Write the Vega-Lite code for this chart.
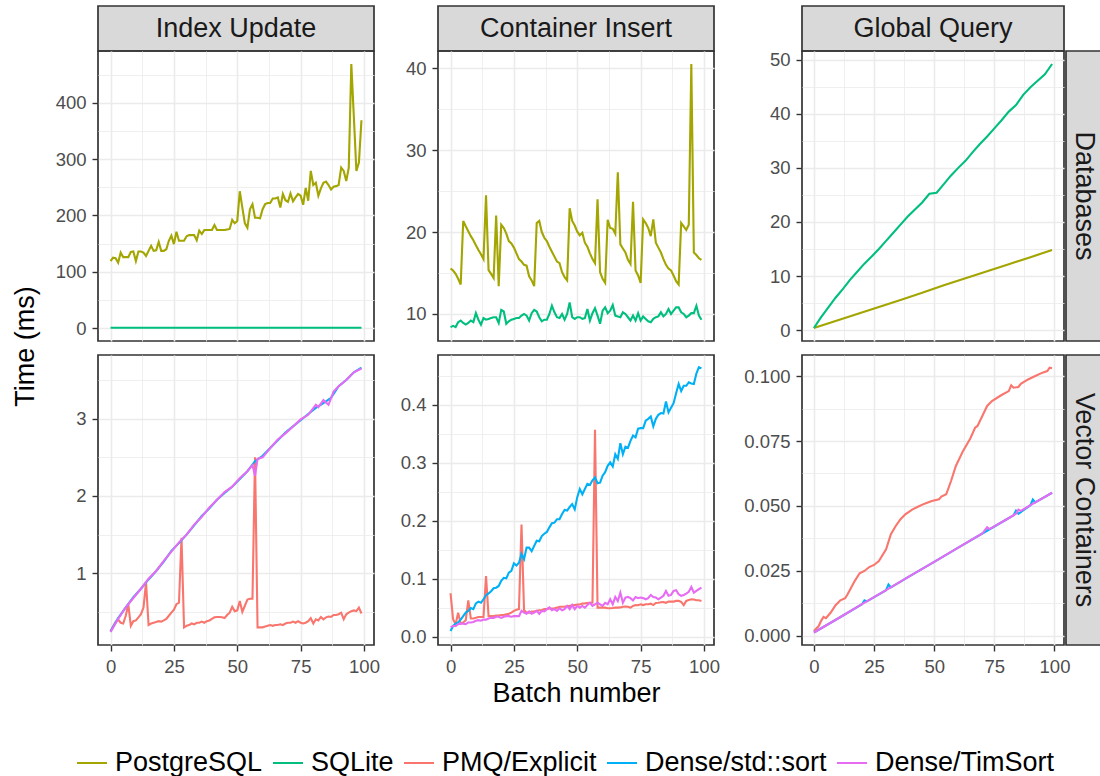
{
"$schema": "https://vega.github.io/schema/vega-lite/v6.json",
"padding": {"left": 12, "top": 5, "right": 0, "bottom": 0},
"title": {"text": "Time (ms)", "orient": "left", "anchor": "middle", "offset": 14, "dx": 44, "fontSize": 27, "fontWeight": "normal", "font": "Liberation Sans", "color": "#000000"},
"columns": 6,
"spacing": {"row": 0, "column": 2},
"bounds": "flush",
"align": "each",
"datasets": {
"iud": [
{"x":0,"PostgreSQL":119,"SQLite":0.5},{"x":1,"PostgreSQL":125},{"x":2,"PostgreSQL":124},{"x":3,"PostgreSQL":116},{"x":4,"PostgreSQL":134},{"x":5,"PostgreSQL":126},{"x":6,"PostgreSQL":126},{"x":7,"PostgreSQL":126},{"x":8,"PostgreSQL":135},{"x":9,"PostgreSQL":136},
{"x":10,"PostgreSQL":119},{"x":11,"PostgreSQL":136},{"x":12,"PostgreSQL":136},{"x":13,"PostgreSQL":134},{"x":14,"PostgreSQL":128},{"x":15,"PostgreSQL":137},{"x":16,"PostgreSQL":146},{"x":17,"PostgreSQL":137},{"x":18,"PostgreSQL":138},{"x":19,"PostgreSQL":153},
{"x":20,"PostgreSQL":137},{"x":21,"PostgreSQL":137},{"x":22,"PostgreSQL":140},{"x":23,"PostgreSQL":155},{"x":24,"PostgreSQL":164},{"x":25,"PostgreSQL":149},{"x":26,"PostgreSQL":171},{"x":27,"PostgreSQL":155},{"x":28,"PostgreSQL":155},{"x":29,"PostgreSQL":155},
{"x":30,"PostgreSQL":163},{"x":31,"PostgreSQL":165},{"x":32,"PostgreSQL":165},{"x":33,"PostgreSQL":165,"SQLite":0.4},{"x":34,"PostgreSQL":156},{"x":35,"PostgreSQL":173},{"x":36,"PostgreSQL":167},{"x":37,"PostgreSQL":174},{"x":38,"PostgreSQL":174},{"x":39,"PostgreSQL":174},
{"x":40,"PostgreSQL":174},{"x":41,"PostgreSQL":183},{"x":42,"PostgreSQL":174},{"x":43,"PostgreSQL":174},{"x":44,"PostgreSQL":174},{"x":45,"PostgreSQL":174},{"x":46,"PostgreSQL":175},{"x":47,"PostgreSQL":176},{"x":48,"PostgreSQL":192},{"x":49,"PostgreSQL":186},
{"x":50,"PostgreSQL":190},{"x":51,"PostgreSQL":243},{"x":52,"PostgreSQL":214},{"x":53,"PostgreSQL":186},{"x":54,"PostgreSQL":178},{"x":55,"PostgreSQL":211},{"x":56,"PostgreSQL":220},{"x":57,"PostgreSQL":196},{"x":58,"PostgreSQL":196},{"x":59,"PostgreSQL":195},
{"x":60,"PostgreSQL":211},{"x":61,"PostgreSQL":220},{"x":62,"PostgreSQL":222},{"x":63,"PostgreSQL":222},{"x":64,"PostgreSQL":230},{"x":65,"PostgreSQL":230},{"x":66,"PostgreSQL":232,"SQLite":0.4},{"x":67,"PostgreSQL":214},{"x":68,"PostgreSQL":238},{"x":69,"PostgreSQL":227},
{"x":70,"PostgreSQL":224},{"x":71,"PostgreSQL":239},{"x":72,"PostgreSQL":225},{"x":73,"PostgreSQL":232},{"x":74,"PostgreSQL":238},{"x":75,"PostgreSQL":235},{"x":76,"PostgreSQL":219},{"x":77,"PostgreSQL":249},{"x":78,"PostgreSQL":226},{"x":79,"PostgreSQL":279},
{"x":80,"PostgreSQL":254},{"x":81,"PostgreSQL":258},{"x":82,"PostgreSQL":235},{"x":83,"PostgreSQL":248},{"x":84,"PostgreSQL":258},{"x":85,"PostgreSQL":260},{"x":86,"PostgreSQL":254},{"x":87,"PostgreSQL":246},{"x":88,"PostgreSQL":251},{"x":89,"PostgreSQL":252},
{"x":90,"PostgreSQL":254},{"x":91,"PostgreSQL":285},{"x":92,"PostgreSQL":279},{"x":93,"PostgreSQL":261},{"x":94,"PostgreSQL":285},{"x":95,"PostgreSQL":469},{"x":96,"PostgreSQL":375},{"x":97,"PostgreSQL":279},{"x":98,"PostgreSQL":294},{"x":99,"PostgreSQL":369,"SQLite":0.5}
],
"cid": [
{"x":0,"PostgreSQL":15.55,"SQLite":8.4},{"x":1,"PostgreSQL":15.3,"SQLite":8.55},{"x":2,"PostgreSQL":14.9,"SQLite":8.4},{"x":3,"PostgreSQL":14.3,"SQLite":9.0},{"x":4,"PostgreSQL":13.6,"SQLite":9.2},{"x":5,"PostgreSQL":21.35,"SQLite":8.9},{"x":6,"PostgreSQL":20.7,"SQLite":8.7},{"x":7,"PostgreSQL":20.1,"SQLite":8.9},{"x":8,"PostgreSQL":19.5,"SQLite":9.2},{"x":9,"PostgreSQL":19.0,"SQLite":9.0},
{"x":10,"PostgreSQL":18.4,"SQLite":10.1},{"x":11,"PostgreSQL":17.8,"SQLite":9.3},{"x":12,"PostgreSQL":17.3,"SQLite":8.7},{"x":13,"PostgreSQL":16.7,"SQLite":9.5},{"x":14,"PostgreSQL":24.5,"SQLite":9.3},{"x":15,"PostgreSQL":15.35,"SQLite":9.4},{"x":16,"PostgreSQL":14.9,"SQLite":9.5},{"x":17,"PostgreSQL":14.4,"SQLite":9.6},{"x":18,"PostgreSQL":22.0,"SQLite":9.6},{"x":19,"PostgreSQL":13.4,"SQLite":8.9},
{"x":20,"PostgreSQL":20.9,"SQLite":10.5},{"x":21,"PostgreSQL":20.5,"SQLite":10.3},{"x":22,"PostgreSQL":19.8,"SQLite":8.8},{"x":23,"PostgreSQL":18.9,"SQLite":9.1},{"x":24,"PostgreSQL":18.6,"SQLite":9.3},{"x":25,"PostgreSQL":18.1,"SQLite":9.4},{"x":26,"PostgreSQL":17.4,"SQLite":9.5},{"x":27,"PostgreSQL":16.7,"SQLite":9.5},{"x":28,"PostgreSQL":16.4,"SQLite":9.8},{"x":29,"PostgreSQL":16.0,"SQLite":10.0},
{"x":30,"PostgreSQL":15.9,"SQLite":9.8},{"x":31,"PostgreSQL":14.6,"SQLite":9.2},{"x":32,"PostgreSQL":14.1,"SQLite":10.1},{"x":33,"PostgreSQL":13.4,"SQLite":10.5},{"x":34,"PostgreSQL":21.1,"SQLite":10.3},{"x":35,"PostgreSQL":21.35,"SQLite":9.6},{"x":36,"PostgreSQL":20.0,"SQLite":9.1},{"x":37,"PostgreSQL":19.3,"SQLite":9.3},{"x":38,"PostgreSQL":18.9,"SQLite":9.3},{"x":39,"PostgreSQL":18.2,"SQLite":10.0},
{"x":40,"PostgreSQL":17.6,"SQLite":11.0},{"x":41,"PostgreSQL":17.0,"SQLite":10.2},{"x":42,"PostgreSQL":16.4,"SQLite":9.6},{"x":43,"PostgreSQL":16.2,"SQLite":9.5},{"x":44,"PostgreSQL":15.1,"SQLite":10.0},{"x":45,"PostgreSQL":14.5,"SQLite":9.3},{"x":46,"PostgreSQL":14.1,"SQLite":10.0},{"x":47,"PostgreSQL":22.9,"SQLite":11.4},{"x":48,"PostgreSQL":21.35,"SQLite":9.6},{"x":49,"PostgreSQL":20.8,"SQLite":9.4},
{"x":50,"PostgreSQL":20.05,"SQLite":9.6},{"x":51,"PostgreSQL":19.6,"SQLite":9.6},{"x":52,"PostgreSQL":19.9,"SQLite":9.4},{"x":53,"PostgreSQL":18.7,"SQLite":9.5},{"x":54,"PostgreSQL":18.2,"SQLite":10.6},{"x":55,"PostgreSQL":17.4,"SQLite":9.2},{"x":56,"PostgreSQL":16.7,"SQLite":10.1},{"x":57,"PostgreSQL":16.2,"SQLite":10.7},{"x":58,"PostgreSQL":24.0,"SQLite":9.8},{"x":59,"PostgreSQL":15.1,"SQLite":8.8},
{"x":60,"PostgreSQL":14.3,"SQLite":10.4},{"x":61,"PostgreSQL":13.8,"SQLite":10.8},{"x":62,"PostgreSQL":21.5,"SQLite":10.1},{"x":63,"PostgreSQL":20.5,"SQLite":10.4},{"x":64,"PostgreSQL":20.4,"SQLite":11.1},{"x":65,"PostgreSQL":19.8,"SQLite":9.8},{"x":66,"PostgreSQL":27.3,"SQLite":9.7},{"x":67,"PostgreSQL":18.5,"SQLite":9.6},{"x":68,"PostgreSQL":18.0,"SQLite":10.2},{"x":69,"PostgreSQL":17.5,"SQLite":10.0},
{"x":70,"PostgreSQL":16.6,"SQLite":9.6},{"x":71,"PostgreSQL":16.1,"SQLite":9.2},{"x":72,"PostgreSQL":23.7,"SQLite":9.8},{"x":73,"PostgreSQL":15.3,"SQLite":9.2},{"x":74,"PostgreSQL":14.7,"SQLite":10.1},{"x":75,"PostgreSQL":13.8,"SQLite":9.2},{"x":76,"PostgreSQL":21.55,"SQLite":9.7},{"x":77,"PostgreSQL":21.1,"SQLite":9.4},{"x":78,"PostgreSQL":20.5,"SQLite":9.1},{"x":79,"PostgreSQL":19.5,"SQLite":9.0},
{"x":80,"PostgreSQL":21.55,"SQLite":9.4},{"x":81,"PostgreSQL":18.7,"SQLite":9.6},{"x":82,"PostgreSQL":18.1,"SQLite":9.7},{"x":83,"PostgreSQL":17.5,"SQLite":10.2},{"x":84,"PostgreSQL":16.7,"SQLite":9.7},{"x":85,"PostgreSQL":16.0,"SQLite":10.0},{"x":86,"PostgreSQL":15.55,"SQLite":10.6},{"x":87,"PostgreSQL":15.3,"SQLite":10.0},{"x":88,"PostgreSQL":14.7,"SQLite":10.4},{"x":89,"PostgreSQL":14.0,"SQLite":10.8},
{"x":90,"PostgreSQL":13.6,"SQLite":10.8},{"x":91,"PostgreSQL":21.1,"SQLite":10.2},{"x":92,"PostgreSQL":20.7,"SQLite":10.0},{"x":93,"PostgreSQL":20.25,"SQLite":9.6},{"x":94,"PostgreSQL":20.9,"SQLite":9.8},{"x":95,"PostgreSQL":40.5,"SQLite":10.1},{"x":96,"PostgreSQL":17.5,"SQLite":10.1},{"x":97,"PostgreSQL":17.2,"SQLite":11.0},{"x":98,"PostgreSQL":16.8,"SQLite":9.8},{"x":99,"PostgreSQL":16.6,"SQLite":9.3}
],
"gqd": [
{"x":0,"SQLite":0.4,"PostgreSQL":0.4},{"x":3,"SQLite":2.4},{"x":6,"SQLite":4.2},{"x":9,"SQLite":6.0,"PostgreSQL":1.7},{"x":12,"SQLite":7.6},{"x":15,"SQLite":9.3},{"x":18,"SQLite":10.8,"PostgreSQL":3.0},{"x":21,"SQLite":12.3},{"x":24,"SQLite":13.6},{"x":27,"SQLite":15.0,"PostgreSQL":4.3},
{"x":30,"SQLite":16.5},{"x":33,"SQLite":18.0},{"x":36,"SQLite":19.5,"PostgreSQL":5.6},{"x":39,"SQLite":21.0},{"x":42,"SQLite":22.3},{"x":45,"SQLite":23.6,"PostgreSQL":6.9},{"x":48,"SQLite":25.2},{"x":51,"SQLite":25.4},{"x":54,"SQLite":27.0,"PostgreSQL":8.3},{"x":57,"SQLite":28.6},
{"x":60,"SQLite":30.0},{"x":63,"SQLite":31.3,"PostgreSQL":9.6},{"x":66,"SQLite":32.9},{"x":69,"SQLite":34.4},{"x":72,"SQLite":35.8,"PostgreSQL":10.9},{"x":75,"SQLite":37.3},{"x":78,"SQLite":38.8},{"x":81,"SQLite":40.4,"PostgreSQL":12.2},{"x":84,"SQLite":41.6},{"x":87,"SQLite":43.5},
{"x":90,"SQLite":44.9,"PostgreSQL":13.5},{"x":93,"SQLite":46.1},{"x":96,"SQLite":47.3},{"x":99,"SQLite":49.2,"PostgreSQL":14.8}
],
"iuv": [
{"x":0,"PMQ/Explicit":0.25,"Dense/std::sort":0.25,"Dense/TimSort":0.24},{"x":1,"PMQ/Explicit":0.31},{"x":2,"PMQ/Explicit":0.37},{"x":3,"PMQ/Explicit":0.4,"Dense/std::sort":0.42,"Dense/TimSort":0.41},{"x":4,"PMQ/Explicit":0.36},{"x":5,"PMQ/Explicit":0.35},{"x":6,"PMQ/Explicit":0.45,"Dense/std::sort":0.56,"Dense/TimSort":0.56},{"x":7,"PMQ/Explicit":0.6},{"x":8,"PMQ/Explicit":0.32},{"x":9,"PMQ/Explicit":0.38,"Dense/std::sort":0.69,"Dense/TimSort":0.68},
{"x":10,"PMQ/Explicit":0.39},{"x":11,"PMQ/Explicit":0.43},{"x":12,"PMQ/Explicit":0.47,"Dense/std::sort":0.8,"Dense/TimSort":0.8},{"x":13,"PMQ/Explicit":0.556},{"x":14,"PMQ/Explicit":0.88},{"x":15,"PMQ/Explicit":0.33,"Dense/std::sort":0.92,"Dense/TimSort":0.93},{"x":16,"PMQ/Explicit":0.35},{"x":17,"PMQ/Explicit":0.36},{"x":18,"PMQ/Explicit":0.37,"Dense/std::sort":1.03,"Dense/TimSort":1.03},{"x":19,"PMQ/Explicit":0.38},
{"x":20,"PMQ/Explicit":0.375},{"x":21,"PMQ/Explicit":0.39,"Dense/std::sort":1.15,"Dense/TimSort":1.16},{"x":22,"PMQ/Explicit":0.41},{"x":23,"PMQ/Explicit":0.45},{"x":24,"PMQ/Explicit":0.49,"Dense/std::sort":1.29,"Dense/TimSort":1.28},{"x":25,"PMQ/Explicit":0.53},{"x":26,"PMQ/Explicit":0.6},{"x":27,"PMQ/Explicit":0.62,"Dense/std::sort":1.39,"Dense/TimSort":1.4},{"x":28,"PMQ/Explicit":1.46},{"x":29,"PMQ/Explicit":0.3},
{"x":30,"PMQ/Explicit":0.32,"Dense/std::sort":1.5,"Dense/TimSort":1.5},{"x":31,"PMQ/Explicit":0.33},{"x":32,"PMQ/Explicit":0.35},{"x":33,"PMQ/Explicit":0.34,"Dense/std::sort":1.62,"Dense/TimSort":1.63},{"x":34,"PMQ/Explicit":0.36},{"x":35,"PMQ/Explicit":0.36},{"x":36,"PMQ/Explicit":0.375,"Dense/std::sort":1.74,"Dense/TimSort":1.73},{"x":37,"PMQ/Explicit":0.36},{"x":38,"PMQ/Explicit":0.38},{"x":39,"PMQ/Explicit":0.39,"Dense/std::sort":1.84,"Dense/TimSort":1.85},
{"x":40,"PMQ/Explicit":0.41},{"x":41,"PMQ/Explicit":0.43},{"x":42,"PMQ/Explicit":0.435,"Dense/std::sort":1.95,"Dense/TimSort":1.95},{"x":43,"PMQ/Explicit":0.435},{"x":44,"PMQ/Explicit":0.43},{"x":45,"PMQ/Explicit":0.42,"Dense/std::sort":2.04,"Dense/TimSort":2.05},{"x":46,"PMQ/Explicit":0.46},{"x":47,"PMQ/Explicit":0.49},{"x":48,"PMQ/Explicit":0.565,"Dense/std::sort":2.12,"Dense/TimSort":2.12},{"x":49,"PMQ/Explicit":0.51},
{"x":50,"PMQ/Explicit":0.52},{"x":51,"PMQ/Explicit":0.64,"Dense/std::sort":2.22,"Dense/TimSort":2.23},{"x":52,"PMQ/Explicit":0.5},{"x":53,"PMQ/Explicit":0.58},{"x":54,"PMQ/Explicit":0.66,"Dense/std::sort":2.32,"Dense/TimSort":2.32},{"x":55,"PMQ/Explicit":0.67},{"x":56,"PMQ/Explicit":0.67,"Dense/TimSort":2.4},{"x":57,"PMQ/Explicit":2.5,"Dense/std::sort":2.45,"Dense/TimSort":2.26},{"x":58,"PMQ/Explicit":0.3,"Dense/TimSort":2.48},{"x":59,"PMQ/Explicit":0.3},
{"x":60,"PMQ/Explicit":0.3,"Dense/std::sort":2.52,"Dense/TimSort":2.5},{"x":61,"PMQ/Explicit":0.31},{"x":62,"PMQ/Explicit":0.32},{"x":63,"PMQ/Explicit":0.33,"Dense/std::sort":2.62,"Dense/TimSort":2.62},{"x":64,"PMQ/Explicit":0.32},{"x":65,"PMQ/Explicit":0.33},{"x":66,"PMQ/Explicit":0.33,"Dense/std::sort":2.72,"Dense/TimSort":2.73},{"x":67,"PMQ/Explicit":0.34},{"x":68,"PMQ/Explicit":0.33},{"x":69,"PMQ/Explicit":0.35,"Dense/std::sort":2.82,"Dense/TimSort":2.81},
{"x":70,"PMQ/Explicit":0.36},{"x":71,"PMQ/Explicit":0.36},{"x":72,"PMQ/Explicit":0.375,"Dense/std::sort":2.9,"Dense/TimSort":2.9},{"x":73,"PMQ/Explicit":0.36},{"x":74,"PMQ/Explicit":0.38},{"x":75,"PMQ/Explicit":0.36,"Dense/std::sort":2.98,"Dense/TimSort":2.99},{"x":76,"PMQ/Explicit":0.35},{"x":77,"PMQ/Explicit":0.36},{"x":78,"PMQ/Explicit":0.38,"Dense/std::sort":3.06,"Dense/TimSort":3.05},{"x":79,"PMQ/Explicit":0.42},
{"x":80,"PMQ/Explicit":0.35},{"x":81,"PMQ/Explicit":0.405,"Dense/std::sort":3.14,"Dense/TimSort":3.18},{"x":82,"PMQ/Explicit":0.39,"Dense/TimSort":3.15},{"x":83,"PMQ/Explicit":0.435},{"x":84,"PMQ/Explicit":0.405,"Dense/std::sort":3.2,"Dense/TimSort":3.24},{"x":85,"PMQ/Explicit":0.43},{"x":86,"PMQ/Explicit":0.44,"Dense/TimSort":3.18},{"x":87,"PMQ/Explicit":0.435,"Dense/std::sort":3.27},{"x":88,"PMQ/Explicit":0.46,"Dense/TimSort":3.35},{"x":89,"PMQ/Explicit":0.46},
{"x":90,"PMQ/Explicit":0.47,"Dense/std::sort":3.42,"Dense/TimSort":3.42},{"x":91,"PMQ/Explicit":0.49},{"x":92,"PMQ/Explicit":0.405},{"x":93,"PMQ/Explicit":0.47,"Dense/std::sort":3.5,"Dense/TimSort":3.5},{"x":94,"PMQ/Explicit":0.49},{"x":95,"PMQ/Explicit":0.51},{"x":96,"PMQ/Explicit":0.52,"Dense/std::sort":3.6,"Dense/TimSort":3.6},{"x":97,"PMQ/Explicit":0.51},{"x":98,"PMQ/Explicit":0.556},{"x":99,"PMQ/Explicit":0.48,"Dense/std::sort":3.66,"Dense/TimSort":3.65}
],
"civ": [
{"x":0,"PMQ/Explicit":0.0754,"Dense/std::sort":0.0104,"Dense/TimSort":0.017},{"x":1,"PMQ/Explicit":0.0305,"Dense/std::sort":0.019,"Dense/TimSort":0.019},{"x":2,"PMQ/Explicit":0.0219,"Dense/std::sort":0.023,"Dense/TimSort":0.019},{"x":3,"PMQ/Explicit":0.042,"Dense/std::sort":0.025,"Dense/TimSort":0.022},{"x":4,"PMQ/Explicit":0.023,"Dense/std::sort":0.03,"Dense/TimSort":0.023},{"x":5,"PMQ/Explicit":0.025,"Dense/std::sort":0.036,"Dense/TimSort":0.023},{"x":6,"PMQ/Explicit":0.029,"Dense/std::sort":0.042,"Dense/TimSort":0.022},{"x":7,"PMQ/Explicit":0.063,"Dense/std::sort":0.045,"Dense/TimSort":0.025},{"x":8,"PMQ/Explicit":0.032,"Dense/std::sort":0.05,"Dense/TimSort":0.025},{"x":9,"PMQ/Explicit":0.032,"Dense/std::sort":0.048,"Dense/TimSort":0.026},
{"x":10,"PMQ/Explicit":0.033,"Dense/std::sort":0.058,"Dense/TimSort":0.028},{"x":11,"PMQ/Explicit":0.0345,"Dense/std::sort":0.061,"Dense/TimSort":0.029},{"x":12,"PMQ/Explicit":0.0345,"Dense/std::sort":0.059,"Dense/TimSort":0.028},{"x":13,"PMQ/Explicit":0.0345,"Dense/std::sort":0.065,"Dense/TimSort":0.03},{"x":14,"PMQ/Explicit":0.105,"Dense/std::sort":0.072,"Dense/TimSort":0.03},{"x":15,"PMQ/Explicit":0.036,"Dense/std::sort":0.075,"Dense/TimSort":0.032},{"x":16,"PMQ/Explicit":0.036,"Dense/std::sort":0.079,"Dense/TimSort":0.033},{"x":17,"PMQ/Explicit":0.036,"Dense/std::sort":0.084,"Dense/TimSort":0.033},{"x":18,"PMQ/Explicit":0.037,"Dense/std::sort":0.085,"Dense/TimSort":0.035},{"x":19,"PMQ/Explicit":0.037,"Dense/std::sort":0.088,"Dense/TimSort":0.035},
{"x":20,"PMQ/Explicit":0.038,"Dense/std::sort":0.097,"Dense/TimSort":0.033},{"x":21,"PMQ/Explicit":0.038,"Dense/std::sort":0.102,"Dense/TimSort":0.035},{"x":22,"PMQ/Explicit":0.039,"Dense/std::sort":0.101,"Dense/TimSort":0.036},{"x":23,"PMQ/Explicit":0.04,"Dense/std::sort":0.111,"Dense/TimSort":0.036},{"x":24,"PMQ/Explicit":0.042,"Dense/std::sort":0.114,"Dense/TimSort":0.035},{"x":25,"PMQ/Explicit":0.045,"Dense/std::sort":0.127,"Dense/TimSort":0.036},{"x":26,"PMQ/Explicit":0.047,"Dense/std::sort":0.123,"Dense/TimSort":0.036},{"x":27,"PMQ/Explicit":0.048,"Dense/std::sort":0.128,"Dense/TimSort":0.036},{"x":28,"PMQ/Explicit":0.194,"Dense/std::sort":0.143,"Dense/TimSort":0.045},{"x":29,"PMQ/Explicit":0.046,"Dense/std::sort":0.134,"Dense/TimSort":0.042},
{"x":30,"PMQ/Explicit":0.042,"Dense/std::sort":0.154,"Dense/TimSort":0.04},{"x":31,"PMQ/Explicit":0.042,"Dense/std::sort":0.154,"Dense/TimSort":0.044},{"x":32,"PMQ/Explicit":0.044,"Dense/std::sort":0.148,"Dense/TimSort":0.04},{"x":33,"PMQ/Explicit":0.044,"Dense/std::sort":0.157,"Dense/TimSort":0.042},{"x":34,"PMQ/Explicit":0.045,"Dense/std::sort":0.166,"Dense/TimSort":0.045},{"x":35,"PMQ/Explicit":0.046,"Dense/std::sort":0.165,"Dense/TimSort":0.04},{"x":36,"PMQ/Explicit":0.046,"Dense/std::sort":0.174,"Dense/TimSort":0.045},{"x":37,"PMQ/Explicit":0.048,"Dense/std::sort":0.178,"Dense/TimSort":0.044},{"x":38,"PMQ/Explicit":0.048,"Dense/std::sort":0.181,"Dense/TimSort":0.048},{"x":39,"PMQ/Explicit":0.049,"Dense/std::sort":0.189,"Dense/TimSort":0.051},
{"x":40,"PMQ/Explicit":0.049,"Dense/std::sort":0.196,"Dense/TimSort":0.046},{"x":41,"PMQ/Explicit":0.0495,"Dense/std::sort":0.197,"Dense/TimSort":0.048},{"x":42,"PMQ/Explicit":0.0506,"Dense/std::sort":0.203,"Dense/TimSort":0.045},{"x":43,"PMQ/Explicit":0.052,"Dense/std::sort":0.203,"Dense/TimSort":0.0495},{"x":44,"PMQ/Explicit":0.052,"Dense/std::sort":0.212,"Dense/TimSort":0.046},{"x":45,"PMQ/Explicit":0.052,"Dense/std::sort":0.219,"Dense/TimSort":0.048},{"x":46,"PMQ/Explicit":0.0535,"Dense/std::sort":0.218,"Dense/TimSort":0.0535},{"x":47,"PMQ/Explicit":0.0535,"Dense/std::sort":0.224,"Dense/TimSort":0.048},{"x":48,"PMQ/Explicit":0.055,"Dense/std::sort":0.229,"Dense/TimSort":0.055},{"x":49,"PMQ/Explicit":0.055,"Dense/std::sort":0.22,"Dense/TimSort":0.048},
{"x":50,"PMQ/Explicit":0.056,"Dense/std::sort":0.241,"Dense/TimSort":0.0535},{"x":51,"PMQ/Explicit":0.056,"Dense/std::sort":0.255,"Dense/TimSort":0.0506},{"x":52,"PMQ/Explicit":0.0575,"Dense/std::sort":0.246,"Dense/TimSort":0.0535},{"x":53,"PMQ/Explicit":0.058,"Dense/std::sort":0.255,"Dense/TimSort":0.0506},{"x":54,"PMQ/Explicit":0.0587,"Dense/std::sort":0.264,"Dense/TimSort":0.055},{"x":55,"PMQ/Explicit":0.059,"Dense/std::sort":0.262,"Dense/TimSort":0.059},{"x":56,"PMQ/Explicit":0.059,"Dense/std::sort":0.27,"Dense/TimSort":0.0535},{"x":57,"PMQ/Explicit":0.357,"Dense/std::sort":0.275,"Dense/TimSort":0.0564},{"x":58,"PMQ/Explicit":0.0506,"Dense/std::sort":0.265,"Dense/TimSort":0.059},{"x":59,"PMQ/Explicit":0.0506,"Dense/std::sort":0.266,"Dense/TimSort":0.0564},
{"x":60,"PMQ/Explicit":0.0506,"Dense/std::sort":0.278,"Dense/TimSort":0.0535},{"x":61,"PMQ/Explicit":0.0506,"Dense/std::sort":0.284,"Dense/TimSort":0.059},{"x":62,"PMQ/Explicit":0.0495,"Dense/std::sort":0.295,"Dense/TimSort":0.0564},{"x":63,"PMQ/Explicit":0.0495,"Dense/std::sort":0.301,"Dense/TimSort":0.065},{"x":64,"PMQ/Explicit":0.05,"Dense/std::sort":0.294,"Dense/TimSort":0.0564},{"x":65,"PMQ/Explicit":0.0506,"Dense/std::sort":0.315,"Dense/TimSort":0.069},{"x":66,"PMQ/Explicit":0.0506,"Dense/std::sort":0.307,"Dense/TimSort":0.062},{"x":67,"PMQ/Explicit":0.051,"Dense/std::sort":0.334,"Dense/TimSort":0.0765},{"x":68,"PMQ/Explicit":0.052,"Dense/std::sort":0.315,"Dense/TimSort":0.059},{"x":69,"PMQ/Explicit":0.0524,"Dense/std::sort":0.328,"Dense/TimSort":0.068},
{"x":70,"PMQ/Explicit":0.052,"Dense/std::sort":0.326,"Dense/TimSort":0.069},{"x":71,"PMQ/Explicit":0.0506,"Dense/std::sort":0.338,"Dense/TimSort":0.067},{"x":72,"PMQ/Explicit":0.0535,"Dense/std::sort":0.347,"Dense/TimSort":0.063},{"x":73,"PMQ/Explicit":0.055,"Dense/std::sort":0.344,"Dense/TimSort":0.069},{"x":74,"PMQ/Explicit":0.0547,"Dense/std::sort":0.359,"Dense/TimSort":0.067},{"x":75,"PMQ/Explicit":0.0564,"Dense/std::sort":0.36,"Dense/TimSort":0.068},{"x":76,"PMQ/Explicit":0.055,"Dense/std::sort":0.36,"Dense/TimSort":0.067},{"x":77,"PMQ/Explicit":0.0564,"Dense/std::sort":0.373,"Dense/TimSort":0.065},{"x":78,"PMQ/Explicit":0.0564,"Dense/std::sort":0.376,"Dense/TimSort":0.067},{"x":79,"PMQ/Explicit":0.0575,"Dense/std::sort":0.38,"Dense/TimSort":0.0725},
{"x":80,"PMQ/Explicit":0.055,"Dense/std::sort":0.363,"Dense/TimSort":0.069},{"x":81,"PMQ/Explicit":0.0587,"Dense/std::sort":0.376,"Dense/TimSort":0.068},{"x":82,"PMQ/Explicit":0.059,"Dense/std::sort":0.383,"Dense/TimSort":0.065},{"x":83,"PMQ/Explicit":0.0599,"Dense/std::sort":0.386,"Dense/TimSort":0.068},{"x":84,"PMQ/Explicit":0.0604,"Dense/std::sort":0.385,"Dense/TimSort":0.071},{"x":85,"PMQ/Explicit":0.059,"Dense/std::sort":0.406,"Dense/TimSort":0.0794},{"x":86,"PMQ/Explicit":0.061,"Dense/std::sort":0.387,"Dense/TimSort":0.071},{"x":87,"PMQ/Explicit":0.061,"Dense/std::sort":0.395,"Dense/TimSort":0.0725},{"x":88,"PMQ/Explicit":0.061,"Dense/std::sort":0.403,"Dense/TimSort":0.0794},{"x":89,"PMQ/Explicit":0.0622,"Dense/std::sort":0.42,"Dense/TimSort":0.0806},
{"x":90,"PMQ/Explicit":0.0622,"Dense/std::sort":0.436,"Dense/TimSort":0.0737},{"x":91,"PMQ/Explicit":0.0604,"Dense/std::sort":0.424,"Dense/TimSort":0.071},{"x":92,"PMQ/Explicit":0.055,"Dense/std::sort":0.433,"Dense/TimSort":0.0725},{"x":93,"PMQ/Explicit":0.0622,"Dense/std::sort":0.433,"Dense/TimSort":0.0748},{"x":94,"PMQ/Explicit":0.0639,"Dense/std::sort":0.439,"Dense/TimSort":0.078},{"x":95,"PMQ/Explicit":0.065,"Dense/std::sort":0.437,"Dense/TimSort":0.0863},{"x":96,"PMQ/Explicit":0.0645,"Dense/std::sort":0.436,"Dense/TimSort":0.0765},{"x":97,"PMQ/Explicit":0.0633,"Dense/std::sort":0.454,"Dense/TimSort":0.0794},{"x":98,"PMQ/Explicit":0.0633,"Dense/std::sort":0.465,"Dense/TimSort":0.0823},{"x":99,"PMQ/Explicit":0.0622,"Dense/std::sort":0.463,"Dense/TimSort":0.0852}
],
"gqv": [
{"x":0,"PMQ/Explicit":0.0019},{"x":2,"PMQ/Explicit":0.0038},{"x":3,"PMQ/Explicit":0.0058},{"x":4,"PMQ/Explicit":0.0073},{"x":5,"PMQ/Explicit":0.0068},{"x":7,"PMQ/Explicit":0.009},{"x":9,"PMQ/Explicit":0.0118},{"x":11,"PMQ/Explicit":0.0137},{"x":13,"PMQ/Explicit":0.0145},{"x":14,"PMQ/Explicit":0.016},
{"x":17,"PMQ/Explicit":0.0212},{"x":19,"PMQ/Explicit":0.0241},{"x":21,"PMQ/Explicit":0.025},{"x":23,"PMQ/Explicit":0.0265},{"x":25,"PMQ/Explicit":0.0273},{"x":27,"PMQ/Explicit":0.0288},{"x":30,"PMQ/Explicit":0.0333},{"x":32,"PMQ/Explicit":0.0391},{"x":34,"PMQ/Explicit":0.0423},{"x":36,"PMQ/Explicit":0.0449},
{"x":38,"PMQ/Explicit":0.0468},{"x":41,"PMQ/Explicit":0.0487},{"x":43,"PMQ/Explicit":0.0496},{"x":46,"PMQ/Explicit":0.0509},{"x":49,"PMQ/Explicit":0.0519},{"x":52,"PMQ/Explicit":0.0526},{"x":53,"PMQ/Explicit":0.0536},{"x":55,"PMQ/Explicit":0.0545},{"x":57,"PMQ/Explicit":0.0596},{"x":59,"PMQ/Explicit":0.0654},
{"x":62,"PMQ/Explicit":0.0712},{"x":65,"PMQ/Explicit":0.076},{"x":67,"PMQ/Explicit":0.0801},{"x":68,"PMQ/Explicit":0.0808},{"x":70,"PMQ/Explicit":0.0846},{"x":72,"PMQ/Explicit":0.0885},{"x":74,"PMQ/Explicit":0.0904},{"x":78,"PMQ/Explicit":0.0927},{"x":81,"PMQ/Explicit":0.0942},{"x":82,"PMQ/Explicit":0.0964},
{"x":83,"PMQ/Explicit":0.0955},{"x":85,"PMQ/Explicit":0.0958},{"x":86,"PMQ/Explicit":0.097},{"x":89,"PMQ/Explicit":0.0987},{"x":92,"PMQ/Explicit":0.1},{"x":95,"PMQ/Explicit":0.1013},{"x":97,"PMQ/Explicit":0.1019},{"x":98,"PMQ/Explicit":0.1032},{"x":99,"PMQ/Explicit":0.103},
{"x":0,"Dense/std::sort":0.0013},{"x":10,"Dense/std::sort":0.0067},{"x":20,"Dense/std::sort":0.0122},{"x":21,"Dense/std::sort":0.0137},{"x":22,"Dense/std::sort":0.0133},{"x":30,"Dense/std::sort":0.0176},{"x":31,"Dense/std::sort":0.0198},{"x":32,"Dense/std::sort":0.0187},{"x":40,"Dense/std::sort":0.0231},{"x":50,"Dense/std::sort":0.0285},
{"x":60,"Dense/std::sort":0.034},{"x":70,"Dense/std::sort":0.0394},{"x":80,"Dense/std::sort":0.0448},{"x":83,"Dense/std::sort":0.0464},{"x":84,"Dense/std::sort":0.0482},{"x":85,"Dense/std::sort":0.047},{"x":90,"Dense/std::sort":0.0503},{"x":91,"Dense/std::sort":0.0525},{"x":92,"Dense/std::sort":0.0514},{"x":99,"Dense/std::sort":0.0551},
{"x":0,"Dense/TimSort":0.0013},{"x":10,"Dense/TimSort":0.0067},{"x":20,"Dense/TimSort":0.0122},{"x":30,"Dense/TimSort":0.0176},{"x":40,"Dense/TimSort":0.0231},{"x":50,"Dense/TimSort":0.0285},{"x":60,"Dense/TimSort":0.034},{"x":70,"Dense/TimSort":0.0394},{"x":72,"Dense/TimSort":0.0418},{"x":73,"Dense/TimSort":0.0411},
{"x":80,"Dense/TimSort":0.0448},{"x":84,"Dense/TimSort":0.047},{"x":85,"Dense/TimSort":0.0486},{"x":86,"Dense/TimSort":0.0481},{"x":90,"Dense/TimSort":0.0503},{"x":99,"Dense/TimSort":0.0551}
]
},
"concat": [
{"width": 276, "height": 45, "view": {"fill": "#d9d9d9", "stroke": "#333333", "strokeWidth": 1.7}, "data": {"values": [{"label": "Index Update"}]}, "mark": {"type": "text", "fontSize": 27, "color": "#1a1a1a", "baseline": "middle", "align": "center", "font": "Liberation Sans"}, "encoding": {"text": {"field": "label"}}},
{"width": 60, "height": 1, "data": {"values": []}, "mark": "point"},
{"width": 276, "height": 45, "view": {"fill": "#d9d9d9", "stroke": "#333333", "strokeWidth": 1.7}, "data": {"values": [{"label": "Container Insert"}]}, "mark": {"type": "text", "fontSize": 27, "color": "#1a1a1a", "baseline": "middle", "align": "center", "font": "Liberation Sans"}, "encoding": {"text": {"field": "label"}}},
{"width": 84, "height": 1, "data": {"values": []}, "mark": "point"},
{"width": 262, "height": 45, "view": {"fill": "#d9d9d9", "stroke": "#333333", "strokeWidth": 1.7}, "data": {"values": [{"label": "Global Query"}]}, "mark": {"type": "text", "fontSize": 27, "color": "#1a1a1a", "baseline": "middle", "align": "center", "font": "Liberation Sans"}, "encoding": {"text": {"field": "label"}}},
{"width": 1, "height": 1, "data": {"values": []}, "mark": "point"},

{"width": 276, "height": 290, "view": {"stroke": "#333333", "strokeWidth": 1.7},
 "data": {"name": "iud"},
 "transform": [{"fold": ["PostgreSQL", "SQLite"], "as": ["s", "y"]}, {"filter": "isValid(datum.y)"}],
 "mark": {"type": "line", "strokeWidth": 2.1},
 "encoding": {
  "x": {"field": "x", "type": "quantitative", "scale": {"domain": [-4.95, 103.95], "nice": false, "zero": false}, "axis": {"values": [0,12.5,25,37.5,50,62.5,75,87.5,100], "labels": false, "ticks": false, "title": null, "gridWidth": {"condition": {"test": "datum.value % 25 === 0", "value": 1.6}, "value": 0.8}}},
  "y": {"field": "y", "type": "quantitative", "scale": {"domain": [-23, 492], "nice": false, "zero": false}, "axis": {"values": [0,50,100,150,200,250,300,350,400,450], "title": null, "labelExpr": "datum.value % 100 === 0 ? datum.label : ''", "tickOpacity": {"condition": {"test": "datum.value % 100 === 0", "value": 1}, "value": 0}, "gridWidth": {"condition": {"test": "datum.value % 100 === 0", "value": 1.6}, "value": 0.8}}},
  "color": {"field": "s", "type": "nominal", "scale": {"domain": ["PostgreSQL","SQLite","PMQ/Explicit","Dense/std::sort","Dense/TimSort"], "range": ["#A3A500","#00BF7D","#F8766D","#00B0F6","#E76BF3"]}, "legend": {"title": null}}
 }},
{"width": 60, "height": 1, "data": {"values": []}, "mark": "point"},
{"width": 276, "height": 290, "view": {"stroke": "#333333", "strokeWidth": 1.7},
 "data": {"name": "cid"},
 "transform": [{"fold": ["PostgreSQL", "SQLite"], "as": ["s", "y"]}, {"filter": "isValid(datum.y)"}],
 "mark": {"type": "line", "strokeWidth": 2.1},
 "encoding": {
  "x": {"field": "x", "type": "quantitative", "scale": {"domain": [-4.95, 103.95], "nice": false, "zero": false}, "axis": {"values": [0,12.5,25,37.5,50,62.5,75,87.5,100], "labels": false, "ticks": false, "title": null, "gridWidth": {"condition": {"test": "datum.value % 25 === 0", "value": 1.6}, "value": 0.8}}},
  "y": {"field": "y", "type": "quantitative", "scale": {"domain": [6.7, 42.1], "nice": false, "zero": false}, "axis": {"values": [10,15,20,25,30,35,40], "title": null, "labelExpr": "datum.value % 10 === 0 ? datum.label : ''", "tickOpacity": {"condition": {"test": "datum.value % 10 === 0", "value": 1}, "value": 0}, "gridWidth": {"condition": {"test": "datum.value % 10 === 0", "value": 1.6}, "value": 0.8}}},
  "color": {"field": "s", "type": "nominal", "scale": {"domain": ["PostgreSQL","SQLite","PMQ/Explicit","Dense/std::sort","Dense/TimSort"], "range": ["#A3A500","#00BF7D","#F8766D","#00B0F6","#E76BF3"]}, "legend": {"title": null}}
 }},
{"width": 84, "height": 1, "data": {"values": []}, "mark": "point"},
{"width": 262, "height": 290, "view": {"stroke": "#333333", "strokeWidth": 1.7},
 "data": {"name": "gqd"},
 "transform": [{"fold": ["PostgreSQL", "SQLite"], "as": ["s", "y"]}, {"filter": "isValid(datum.y)"}],
 "mark": {"type": "line", "strokeWidth": 2.1},
 "encoding": {
  "x": {"field": "x", "type": "quantitative", "scale": {"domain": [-4.95, 103.95], "nice": false, "zero": false}, "axis": {"values": [0,12.5,25,37.5,50,62.5,75,87.5,100], "labels": false, "ticks": false, "title": null, "gridWidth": {"condition": {"test": "datum.value % 25 === 0", "value": 1.6}, "value": 0.8}}},
  "y": {"field": "y", "type": "quantitative", "scale": {"domain": [-2.0, 51.6], "nice": false, "zero": false}, "axis": {"values": [0,5,10,15,20,25,30,35,40,45,50], "title": null, "labelExpr": "datum.value % 10 === 0 ? datum.label : ''", "tickOpacity": {"condition": {"test": "datum.value % 10 === 0", "value": 1}, "value": 0}, "gridWidth": {"condition": {"test": "datum.value % 10 === 0", "value": 1.6}, "value": 0.8}}},
  "color": {"field": "s", "type": "nominal", "scale": {"domain": ["PostgreSQL","SQLite","PMQ/Explicit","Dense/std::sort","Dense/TimSort"], "range": ["#A3A500","#00BF7D","#F8766D","#00B0F6","#E76BF3"]}, "legend": {"title": null}}
 }},
{"width": 35, "height": 290, "view": {"fill": "#d9d9d9", "stroke": "#333333", "strokeWidth": 1.7}, "data": {"values": [{"label": "Databases"}]}, "mark": {"type": "text", "angle": 90, "fontSize": 27, "color": "#1a1a1a", "baseline": "middle", "align": "center", "font": "Liberation Sans"}, "encoding": {"text": {"field": "label"}}},

{"width": 1, "height": 14, "data": {"values": []}, "mark": "point"},
{"width": 1, "height": 14, "data": {"values": []}, "mark": "point"},
{"width": 1, "height": 14, "data": {"values": []}, "mark": "point"},
{"width": 1, "height": 14, "data": {"values": []}, "mark": "point"},
{"width": 1, "height": 14, "data": {"values": []}, "mark": "point"},
{"width": 1, "height": 14, "data": {"values": []}, "mark": "point"},

{"width": 276, "height": 290, "view": {"stroke": "#333333", "strokeWidth": 1.7},
 "data": {"name": "iuv"},
 "transform": [{"fold": ["PMQ/Explicit", "Dense/std::sort", "Dense/TimSort"], "as": ["s", "y"]}, {"filter": "isValid(datum.y)"}],
 "mark": {"type": "line", "strokeWidth": 2.1},
 "encoding": {
  "x": {"field": "x", "type": "quantitative", "scale": {"domain": [-4.95, 103.95], "nice": false, "zero": false}, "axis": {"values": [0,12.5,25,37.5,50,62.5,75,87.5,100], "title": null, "labelExpr": "datum.value % 25 === 0 ? datum.label : ''", "tickOpacity": {"condition": {"test": "datum.value % 25 === 0", "value": 1}, "value": 0}, "gridWidth": {"condition": {"test": "datum.value % 25 === 0", "value": 1.6}, "value": 0.8}}},
  "y": {"field": "y", "type": "quantitative", "scale": {"domain": [0.072, 3.824], "nice": false, "zero": false}, "axis": {"values": [0.5,1,1.5,2,2.5,3,3.5], "title": null, "labelExpr": "datum.value % 1 === 0 ? '' + datum.value : ''", "tickOpacity": {"condition": {"test": "datum.value % 1 === 0", "value": 1}, "value": 0}, "gridWidth": {"condition": {"test": "datum.value % 1 === 0", "value": 1.6}, "value": 0.8}}},
  "color": {"field": "s", "type": "nominal", "scale": {"domain": ["PostgreSQL","SQLite","PMQ/Explicit","Dense/std::sort","Dense/TimSort"], "range": ["#A3A500","#00BF7D","#F8766D","#00B0F6","#E76BF3"]}, "legend": {"title": null}}
 }},
{"width": 60, "height": 1, "data": {"values": []}, "mark": "point"},
{"width": 276, "height": 290, "view": {"stroke": "#333333", "strokeWidth": 1.7},
 "data": {"name": "civ"},
 "transform": [{"fold": ["PMQ/Explicit", "Dense/std::sort", "Dense/TimSort"], "as": ["s", "y"]}, {"filter": "isValid(datum.y)"}],
 "mark": {"type": "line", "strokeWidth": 2.1},
 "encoding": {
  "x": {"field": "x", "type": "quantitative", "scale": {"domain": [-4.95, 103.95], "nice": false, "zero": false}, "axis": {"values": [0,12.5,25,37.5,50,62.5,75,87.5,100], "title": "Batch number", "titlePadding": 5, "labelExpr": "datum.value % 25 === 0 ? datum.label : ''", "tickOpacity": {"condition": {"test": "datum.value % 25 === 0", "value": 1}, "value": 0}, "gridWidth": {"condition": {"test": "datum.value % 25 === 0", "value": 1.6}, "value": 0.8}}},
  "y": {"field": "y", "type": "quantitative", "scale": {"domain": [-0.0138, 0.486], "nice": false, "zero": false}, "axis": {"values": [0,0.05,0.1,0.15,0.2,0.25,0.3,0.35,0.4,0.45], "format": ".1f", "title": null, "labelExpr": "indexof([0,0.1,0.2,0.3,0.4], datum.value) >= 0 ? datum.label : ''", "tickOpacity": {"condition": {"test": "indexof([0,0.1,0.2,0.3,0.4], datum.value) >= 0", "value": 1}, "value": 0}, "gridWidth": {"condition": {"test": "indexof([0,0.1,0.2,0.3,0.4], datum.value) >= 0", "value": 1.6}, "value": 0.8}}},
  "color": {"field": "s", "type": "nominal", "scale": {"domain": ["PostgreSQL","SQLite","PMQ/Explicit","Dense/std::sort","Dense/TimSort"], "range": ["#A3A500","#00BF7D","#F8766D","#00B0F6","#E76BF3"]}, "legend": {"title": null}}
 }},
{"width": 84, "height": 1, "data": {"values": []}, "mark": "point"},
{"width": 262, "height": 290, "view": {"stroke": "#333333", "strokeWidth": 1.7},
 "data": {"name": "gqv"},
 "transform": [{"fold": ["PMQ/Explicit", "Dense/std::sort", "Dense/TimSort"], "as": ["s", "y"]}, {"filter": "isValid(datum.y)"}],
 "mark": {"type": "line", "strokeWidth": 2.1},
 "encoding": {
  "x": {"field": "x", "type": "quantitative", "scale": {"domain": [-4.95, 103.95], "nice": false, "zero": false}, "axis": {"values": [0,12.5,25,37.5,50,62.5,75,87.5,100], "title": null, "labelExpr": "datum.value % 25 === 0 ? datum.label : ''", "tickOpacity": {"condition": {"test": "datum.value % 25 === 0", "value": 1}, "value": 0}, "gridWidth": {"condition": {"test": "datum.value % 25 === 0", "value": 1.6}, "value": 0.8}}},
  "y": {"field": "y", "type": "quantitative", "scale": {"domain": [-0.0035, 0.1081], "nice": false, "zero": false}, "axis": {"values": [0,0.0125,0.025,0.0375,0.05,0.0625,0.075,0.0875,0.1], "format": ".3f", "title": null, "labelExpr": "indexof([0,0.025,0.05,0.075,0.1], datum.value) >= 0 ? datum.label : ''", "tickOpacity": {"condition": {"test": "indexof([0,0.025,0.05,0.075,0.1], datum.value) >= 0", "value": 1}, "value": 0}, "gridWidth": {"condition": {"test": "indexof([0,0.025,0.05,0.075,0.1], datum.value) >= 0", "value": 1.6}, "value": 0.8}}},
  "color": {"field": "s", "type": "nominal", "scale": {"domain": ["PostgreSQL","SQLite","PMQ/Explicit","Dense/std::sort","Dense/TimSort"], "range": ["#A3A500","#00BF7D","#F8766D","#00B0F6","#E76BF3"]}, "legend": {"title": null}}
 }},
{"width": 35, "height": 290, "view": {"fill": "#d9d9d9", "stroke": "#333333", "strokeWidth": 1.7}, "data": {"values": [{"label": "Vector Containers"}]}, "mark": {"type": "text", "angle": 90, "fontSize": 27, "color": "#1a1a1a", "baseline": "middle", "align": "center", "font": "Liberation Sans"}, "encoding": {"text": {"field": "label"}}}
],
"config": {
 "font": "Liberation Sans",
 "view": {"stroke": null},
 "axis": {"labelFont": "Liberation Sans", "labelFontSize": 18.5, "labelColor": "#4d4d4d", "labelPadding": 6, "labelFlush": false, "labelOverlap": false, "tickColor": "#333333", "tickWidth": 1.4, "tickSize": 6, "domain": false, "gridColor": "#ebebeb", "titleFont": "Liberation Sans", "titleFontSize": 27, "titleFontWeight": "normal", "titleColor": "#000000"},
 "legend": {"orient": "none", "legendX": -22, "legendY": 741, "direction": "horizontal", "labelFont": "Liberation Sans", "labelFontSize": 27, "labelColor": "#000000", "labelLimit": 400, "symbolType": "stroke", "symbolSize": 900, "symbolStrokeWidth": 2, "labelOffset": 7, "columnPadding": 6, "padding": 0}
}
}
